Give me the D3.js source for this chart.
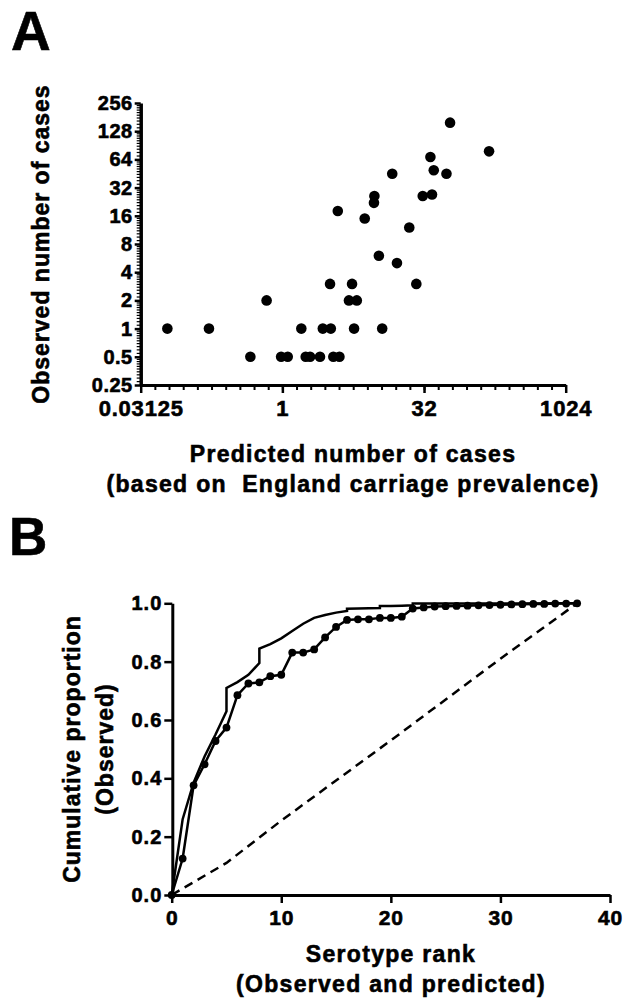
<!DOCTYPE html>
<html lang="en">
<head>
<meta charset="UTF-8">
<title>Observed vs predicted cases</title>
<style>
html, body { margin: 0; padding: 0; background: #fff; }
svg { display: block; font-family: 'Liberation Sans', Arial, sans-serif; font-weight: bold; }
svg text { stroke: #000; stroke-width: 0.6; paint-order: stroke; }
.axis path, .axis line { stroke: #000; }
.axis text { fill: #000; font-weight: bold; }
</style>
</head>
<body>
<svg width="625" height="1003"></svg>
<script src="https://cdnjs.cloudflare.com/ajax/libs/d3/7.8.5/d3.min.js"></script>
<script>
// Panel A: predicted vs observed cases, one point per serotype
const predicted = [0.06, 0.166, 0.68, 0.457, 0.97, 1.14, 1.59, 1.77, 1.97, 2.51, 2.69, 3.27,
  3.21, 3.48, 4.04, 3.88, 5.1, 6.18, 5.5, 5.78, 7.5, 9.5, 9.4, 10.6, 11.5, 14.7, 16.5,
  22.3, 26.5, 31, 38.9, 37.4, 40.6, 55.4, 60.5, 157];
const observed = [1, 1, 2, 0.5, 0.5, 0.5, 1, 0.5, 0.5, 0.5, 1, 1,
  3, 0.5, 0.5, 18, 2, 2, 3, 1, 15, 26, 22, 6, 1, 45, 5,
  12, 3, 26, 27, 68, 49, 45, 158, 78];
const xTicksA = [0.03125, 1, 32, 1024];
const yTicksA = [0.25, 0.5, 1, 2, 4, 8, 16, 32, 64, 128, 256];

// Panel B: cumulative proportion by serotype rank
const rankObs = d3.range(0, 38);
const cumObs = [0, 0.125, 0.376, 0.448, 0.528, 0.574, 0.685, 0.725, 0.729, 0.75, 0.755,
  0.831, 0.831, 0.842, 0.883, 0.919, 0.943, 0.945, 0.945, 0.95, 0.95, 0.954, 0.982,
  0.986, 0.989, 0.99, 0.991, 0.992, 0.993, 0.994, 0.995, 0.996, 0.997, 0.998, 0.998,
  0.999, 0.999, 1];
const rankPred = [0, 1, 2, 3, 4, 5, 5, 6, 7, 8, 8, 9, 10, 11, 12, 13, 14, 15, 16, 16, 17,
  18, 19, 19, 20, 21, 22, 22, 37];
const cumPred = [0, 0.26, 0.385, 0.475, 0.55, 0.63, 0.71, 0.73, 0.755, 0.795, 0.845, 0.86,
  0.88, 0.905, 0.93, 0.95, 0.96, 0.968, 0.974, 0.981, 0.982, 0.983, 0.984, 0.991, 0.991,
  0.992, 0.993, 0.999, 1];
const rankNull = [0, 5, 10, 20, 30, 37];
const cumNull = [0, 0.11, 0.255, 0.53, 0.81, 1];
const xTicksB = [0, 10, 20, 30, 40];
const yTicksB = [0, 0.2, 0.4, 0.6, 0.8, 1.0];

const svg = d3.select('svg');

// panel letters
svg.append('text').attr('x', 11).attr('y', 50).attr('font-size', 55).text('A');
svg.append('text').attr('x', 9).attr('y', 555).attr('font-size', 53).text('B');

// ---------- panel A ----------
const xA = d3.scaleLog().base(2).domain([0.03125, 1024]).range([140.7, 565.7]);
const yA = d3.scaleLog().base(2).domain([0.25, 256]).range([385, 103]);

// minor ticks
const xMinorA = d3.range(-10, 21).map(i => Math.pow(2, i / 2)).filter(v => v > 0.03125 && v < 1024);
const yMinorA = [];
for (let k = -2; k < 8; k++) {
  for (let i = 1; i < 10; i++) yMinorA.push(Math.pow(2, k) * (1 + i / 10));
}

const gA = svg.append('g');

gA.append('g').attr('class', 'axis')
  .attr('transform', 'translate(0,385)')
  .call(d3.axisBottom(xA).tickValues(xMinorA).tickSize(5).tickFormat(''))
  .call(g => g.select('.domain').remove())
  .selectAll('line').attr('stroke-width', 2);

gA.append('g').attr('class', 'axis')
  .attr('transform', 'translate(140.7,0)')
  .call(d3.axisLeft(yA).tickValues(yMinorA).tickSize(4).tickFormat(''))
  .call(g => g.select('.domain').remove())
  .selectAll('line').attr('stroke-width', 1.2);

gA.append('g').attr('class', 'axis')
  .attr('transform', 'translate(0,385)')
  .call(d3.axisBottom(xA).tickValues(xTicksA).tickSize(8).tickSizeOuter(0)
    .tickFormat(d => String(d)))
  .call(g => g.select('.domain').attr('stroke-width', 3))
  .call(g => g.selectAll('line').attr('stroke-width', 2.5))
  .call(g => g.selectAll('text').attr('font-size', 22).attr('dy', '0.9em')
    .attr('letter-spacing', 0.8));

gA.append('g').attr('class', 'axis')
  .attr('transform', 'translate(140.7,0)')
  .call(d3.axisLeft(yA).tickValues(yTicksA).tickSize(6).tickSizeOuter(0)
    .tickFormat(d => String(d)))
  .call(g => g.select('.domain').attr('stroke-width', 3.5))
  .call(g => g.selectAll('line').attr('stroke-width', 2.5))
  .call(g => g.selectAll('text').attr('font-size', 20).attr('x', -8)
    .attr('letter-spacing', 0.5));

gA.selectAll('circle')
  .data(predicted.map((p, i) => [p, observed[i]]))
  .enter().append('circle')
  .attr('cx', d => xA(d[0]))
  .attr('cy', d => yA(d[1]))
  .attr('r', 5.3)
  .attr('fill', '#000');

gA.append('text')
  .attr('transform', 'translate(49,244) rotate(-90)')
  .attr('text-anchor', 'middle')
  .attr('font-size', 23).attr('letter-spacing', 1)
  .text('Observed number of cases');

gA.append('text')
  .attr('x', 353).attr('y', 462)
  .attr('text-anchor', 'middle')
  .attr('font-size', 23).attr('letter-spacing', 1.3)
  .text('Predicted number of cases');

gA.append('text')
  .attr('x', 353).attr('y', 492)
  .attr('text-anchor', 'middle')
  .attr('font-size', 23).attr('letter-spacing', 1.3)
  .attr('xml:space', 'preserve').style('white-space', 'pre')
  .text('(based on  England carriage prevalence)');

// ---------- panel B ----------
const xB = d3.scaleLinear().domain([0, 40]).range([171.7, 610]);
const yB = d3.scaleLinear().domain([0, 1]).range([895, 603.3]);

const gB = svg.append('g');

gB.append('g').attr('class', 'axis')
  .attr('transform', 'translate(0,895)')
  .call(d3.axisBottom(xB).tickValues(xTicksB).tickSize(8).tickSizeOuter(0))
  .call(g => g.select('.domain').attr('stroke-width', 3))
  .call(g => g.selectAll('line').attr('stroke-width', 2.5))
  .call(g => g.selectAll('text').attr('font-size', 21).attr('dy', '0.9em')
    .attr('letter-spacing', 0.8));

gB.append('g').attr('class', 'axis')
  .attr('transform', 'translate(172.3,0)')
  .call(d3.axisLeft(yB).tickValues(yTicksB).tickSize(8).tickSizeOuter(0)
    .tickFormat(d3.format('.1f')))
  .call(g => g.select('.domain').attr('stroke-width', 3))
  .call(g => g.selectAll('line').attr('stroke-width', 2.5))
  .call(g => g.selectAll('text').attr('font-size', 20).attr('x', -10)
    .attr('letter-spacing', 1));

const line = d3.line().x(d => xB(d[0])).y(d => yB(d[1]));

gB.append('path')
  .datum(rankNull.map((r, i) => [r, cumNull[i]]))
  .attr('d', line)
  .attr('fill', 'none').attr('stroke', '#000')
  .attr('stroke-width', 2.5).attr('stroke-dasharray', '9,6');

gB.append('path')
  .datum(rankPred.map((r, i) => [r, cumPred[i]]))
  .attr('d', line)
  .attr('fill', 'none').attr('stroke', '#000')
  .attr('stroke-width', 2.5);

const obsPts = rankObs.map((r, i) => [r, cumObs[i]]);
gB.append('path')
  .datum(obsPts)
  .attr('d', line)
  .attr('fill', 'none').attr('stroke', '#000')
  .attr('stroke-width', 2.5);

gB.selectAll('circle')
  .data(obsPts)
  .enter().append('circle')
  .attr('cx', d => xB(d[0]))
  .attr('cy', d => yB(d[1]))
  .attr('r', 3.9)
  .attr('fill', '#000');

gB.append('text')
  .attr('transform', 'translate(80,749) rotate(-90)')
  .attr('text-anchor', 'middle')
  .attr('font-size', 23).attr('letter-spacing', 1)
  .text('Cumulative proportion');

gB.append('text')
  .attr('transform', 'translate(113,749) rotate(-90)')
  .attr('text-anchor', 'middle')
  .attr('font-size', 23).attr('letter-spacing', 1)
  .text('(Observed)');

gB.append('text')
  .attr('x', 391).attr('y', 962)
  .attr('text-anchor', 'middle')
  .attr('font-size', 23).attr('letter-spacing', 1.3)
  .text('Serotype rank');

gB.append('text')
  .attr('x', 391).attr('y', 992)
  .attr('text-anchor', 'middle')
  .attr('font-size', 23).attr('letter-spacing', 1.3)
  .text('(Observed and predicted)');
</script>
</body>
</html>
